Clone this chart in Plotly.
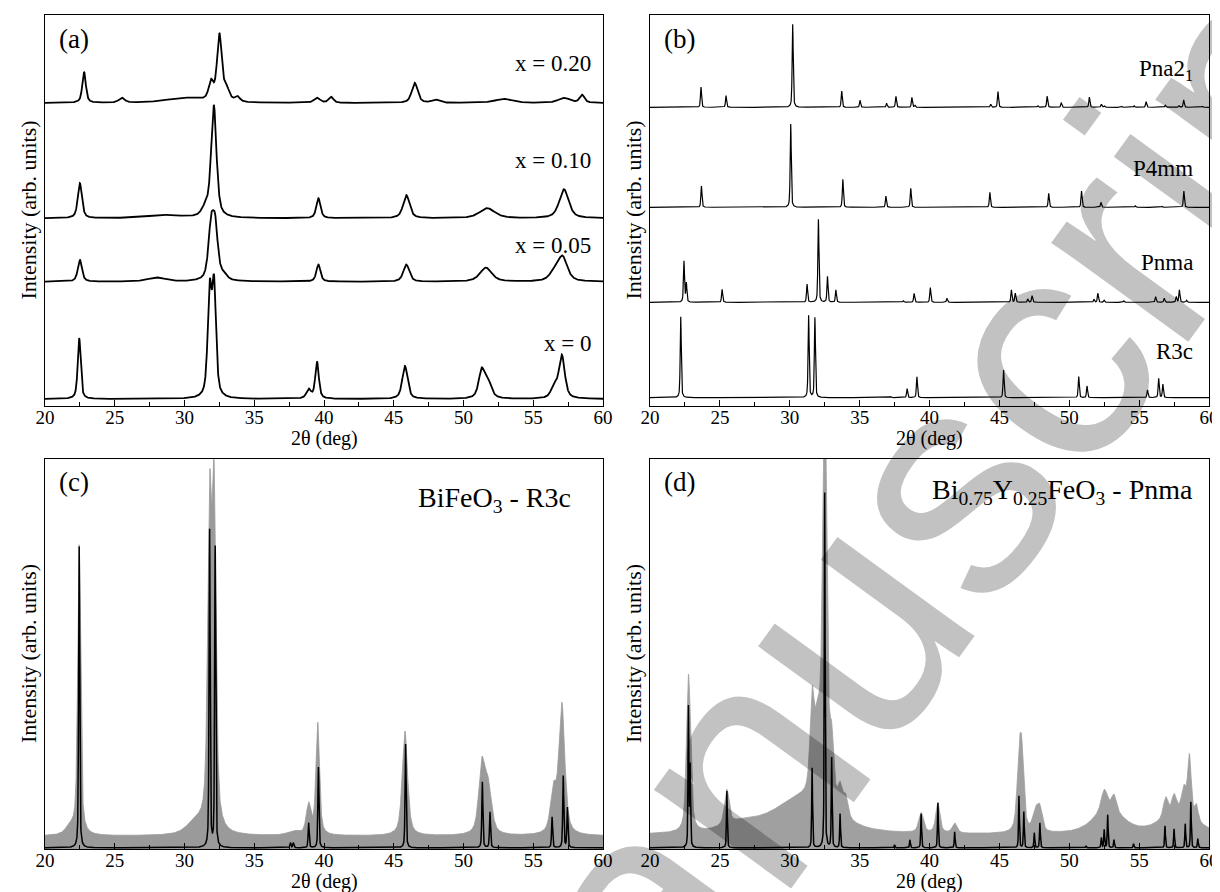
import numpy as np
import plotly.graph_objects as go
from plotly.subplots import make_subplots

# ---------------- data ----------------
tick_vals = [20, 25, 30, 35, 40, 45, 50, 55, 60]

# Panel (a): measured patterns, peak tables (2theta, height, fwhm) + baseline offset
a_labels = ["x = 0", "x = 0.05", "x = 0.10", "x = 0.20"]
a_base = [7.0, 124.3, 187.7, 303.0]
a_x0_pos = [22.45, 31.8, 32.12, 38.9, 39.5, 45.8, 51.3, 51.75, 56.5, 57.05]
a_x0_amp = [61, 103, 108, 9, 37, 33, 27, 16, 12, 43]
a_x0_fw = [0.25, 0.33, 0.33, 0.4, 0.3, 0.45, 0.5, 0.6, 0.5, 0.5]
a_x05_pos = [22.5, 28.0, 31.9, 32.2, 32.8, 39.6, 45.9, 51.6, 56.5, 57.1]
a_x05_amp = [22, 4, 50, 50, 5, 17, 17, 14, 8, 24]
a_x05_fw = [0.35, 1.5, 0.45, 0.45, 0.6, 0.35, 0.5, 1.0, 0.8, 0.8]
a_x10_pos = [22.5, 28.5, 31.5, 32.1, 39.6, 45.9, 51.7, 57.2]
a_x10_amp = [35, 3, 8, 112, 20, 23, 10, 29]
a_x10_fw = [0.35, 3.0, 0.6, 0.45, 0.35, 0.55, 1.3, 0.8]
a_x20_pos = [22.8, 25.5, 30.0, 31.9, 32.5, 33.0, 33.8, 39.5, 40.5, 46.5, 48.0, 52.9, 57.2, 58.5]
a_x20_amp = [31, 5, 5, 18, 66, 12, 5, 5, 6, 20, 3, 4, 5, 8]
a_x20_fw = [0.3, 0.5, 3.0, 0.4, 0.4, 0.5, 0.4, 0.5, 0.4, 0.5, 0.6, 1.5, 1.0, 0.4]

# Panel (b): simulated patterns
b_labels = ["R3c", "Pnma", "P4mm", "Pna2<sub>1</sub>"]
b_base = [8.3, 103.7, 198.7, 298.7]
b_r3c_pos = [22.2, 31.35, 31.8, 37.27, 38.4, 39.1, 45.3, 50.68, 51.27, 55.6, 56.4, 56.7]
b_r3c_amp = [81, 82, 80, 1, 9, 21, 27.7, 21, 11.7, 7.7, 19.3, 13.3]
b_pnma_pos = [22.43, 22.6, 25.16, 31.24, 32.05, 32.7, 33.3, 38.13, 38.9, 40.06, 41.25, 45.86,
              46.14, 47.03, 47.34, 51.77, 52.05, 52.5, 53.9, 56.18, 56.8, 57.66, 57.88, 58.4]
b_pnma_amp = [41, 19, 13, 18, 83, 25.7, 12.3, 1.5, 9, 14.7, 4, 12.3,
              9, 3.3, 6.7, 3, 9, 2, 1.5, 5.7, 4, 5.7, 12.3, 2]
b_p4mm_pos = [23.68, 30.07, 33.8, 36.88, 38.66, 44.32, 48.53, 50.88, 52.27, 54.73, 56.65, 58.2]
b_p4mm_amp = [21.3, 83.3, 28, 11.3, 19, 15, 14, 16.3, 5, 1.5, 1, 16.3]
b_pna_pos = [23.65, 25.44, 30.21, 33.72, 35.03, 36.93, 37.6, 38.74, 38.95, 44.38, 44.9, 47.75,
             48.42, 49.43, 51.44, 52.3, 52.5, 53.75, 54.64, 55.5, 56.88, 57.85, 58.19, 59.53]
b_pna_amp = [20.3, 11.7, 83, 16.3, 7, 4, 11, 10, 2, 3, 15.7, 1.5,
             11.3, 4.7, 10.3, 3, 1.5, 1, 1.5, 5.7, 2, 1.5, 7.3, 1]

# Panel (c): BiFeO3 measured (grey) and R3c calculated (black)
c_exp_base = 13.0
c_exp_pos = [21.8, 22.45, 30.8, 31.8, 32.12, 37.8, 38.9, 39.55, 45.8, 51.3, 51.75, 56.45, 57.05]
c_exp_amp = [8, 290, 12, 310, 325, 4, 30, 112, 105, 66, 48, 42, 130]
c_exp_fw = [0.8, 0.25, 1.5, 0.33, 0.33, 1.0, 0.4, 0.3, 0.45, 0.5, 0.6, 0.5, 0.5]
c_cal_pos = [22.45, 31.8, 32.2, 37.6, 37.8, 38.9, 39.6, 45.85, 51.35, 51.9, 56.35, 57.15, 57.45]
c_cal_amp = [302, 318, 301, 5, 5, 25, 81, 104, 66, 36, 31, 72, 40]

# Panel (d): Bi0.75Y0.25FeO3 measured (grey) and Pnma calculated (black)
d_exp_base = 14.0
d_exp_pos = [22.72, 22.85, 25.5, 26.5, 30.8, 31.6, 32.0, 32.5, 33.0, 33.6, 34.0, 39.4, 40.6, 41.8,
             46.4, 46.6, 47.6, 47.9, 52.5, 52.8, 53.2, 56.9, 57.5, 57.8, 58.2, 58.6, 59.1]
d_exp_amp = [120, 60, 35, 8, 35, 90, 70, 420, 60, 25, 20, 20, 30, 10,
             60, 70, 20, 20, 20, 25, 15, 20, 18, 20, 25, 60, 15]
d_exp_fw = [0.3, 0.3, 0.4, 3.0, 5.0, 0.35, 0.5, 0.35, 0.35, 0.4, 0.4, 0.4, 0.35, 0.4,
            0.35, 0.35, 0.5, 0.4, 0.5, 2.5, 0.4, 0.4, 0.4, 3.0, 0.4, 0.3, 0.3]
d_cal_pos = [22.75, 22.87, 25.5, 31.6, 32.5, 33.0, 33.6, 37.5, 38.6, 39.4, 40.6, 41.8, 46.4, 46.75,
             47.5, 47.9, 51.2, 52.3, 52.5, 52.75, 53.2, 54.6, 56.85, 57.5, 58.3, 58.7, 59.2]
d_cal_amp = [140, 80, 57, 80, 356, 90, 34, 3, 8, 34, 45, 16, 52, 36,
             15, 25, 2, 10, 18, 33, 8, 4, 22, 19, 24, 46, 9]

# ---------------- helpers ----------------
grid = np.linspace(20, 60, 4001)


def pattern(pos, amp, fw, base=0.0, eta=0.6):
    y = np.full_like(grid, base, dtype=float)
    for p, a, w in zip(pos, amp, fw):
        r = (grid - p) / w
        y += a * (eta / (1 + 4 * r ** 2) + (1 - eta) * np.exp(-4 * np.log(2) * r ** 2))
    return y


FONT = "Liberation Serif"

# pixel layout
W, H = 1220, 892
L, R, T, B = 37, 19, 7, 51
PW, PH = W - L - R, H - T - B
ax_px = {"a": (37, 595), "b": (642, 1201)}
ay_px = {"top": (7, 398), "bot": (451, 841)}

fig = make_subplots(rows=2, cols=2)
xd1 = [0, (ax_px["a"][1] - L) / PW]
xd2 = [(ax_px["b"][0] - L) / PW, 1]
yd1 = [(H - B - ay_px["top"][1]) / PH, 1]
yd2 = [0, (H - B - ay_px["bot"][0]) / PH]

# panel (a)
a_sets = [(a_x0_pos, a_x0_amp, a_x0_fw), (a_x05_pos, a_x05_amp, a_x05_fw),
          (a_x10_pos, a_x10_amp, a_x10_fw), (a_x20_pos, a_x20_amp, a_x20_fw)]
for (p, a, w), b in zip(a_sets, a_base):
    fig.add_trace(go.Scatter(x=grid, y=pattern(p, a, w, b), mode="lines",
                             line=dict(color="black", width=1.8), showlegend=False), row=1, col=1)

# panel (b)
b_sets = [(b_r3c_pos, b_r3c_amp), (b_pnma_pos, b_pnma_amp), (b_p4mm_pos, b_p4mm_amp), (b_pna_pos, b_pna_amp)]
for (p, a), b in zip(b_sets, b_base):
    fig.add_trace(go.Scatter(x=grid, y=pattern(p, a, [0.09] * len(p), b, 0.5), mode="lines",
                             line=dict(color="black", width=1.2), showlegend=False), row=1, col=2)

# panel (c)
fig.add_trace(go.Scatter(x=grid, y=pattern(c_exp_pos, c_exp_amp, c_exp_fw, c_exp_base), mode="lines",
                         fill="tozeroy", fillcolor="#9a9a9a", line=dict(color="#9a9a9a", width=0.8),
                         showlegend=False), row=2, col=1)
fig.add_trace(go.Scatter(x=grid, y=pattern(c_cal_pos, c_cal_amp, [0.09] * len(c_cal_pos), 1.2, 0.5),
                         mode="lines", line=dict(color="black", width=1.5), showlegend=False), row=2, col=1)

# panel (d)
fig.add_trace(go.Scatter(x=grid, y=pattern(d_exp_pos, d_exp_amp, d_exp_fw, d_exp_base), mode="lines",
                         fill="tozeroy", fillcolor="#a0a0a0", line=dict(color="#a0a0a0", width=0.8),
                         showlegend=False), row=2, col=2)
fig.add_trace(go.Scatter(x=grid, y=pattern(d_cal_pos, d_cal_amp, [0.07] * len(d_cal_pos), 1.2, 0.5),
                         mode="lines", line=dict(color="black", width=1.5), showlegend=False), row=2, col=2)

# axes
for r in (1, 2):
    for c in (1, 2):
        fig.update_xaxes(range=[20, 60], tickvals=tick_vals, ticks="inside", ticklen=6, tickwidth=1,
                         tickcolor="black", minor=dict(dtick=2.5, ticks="inside", ticklen=4, tickcolor="black"),
                         showline=True, mirror=True, linecolor="black", linewidth=1, showgrid=False,
                         zeroline=False, ticklabelstandoff=-6,
                         tickfont=dict(family=FONT, size=19, color="black"),
                         domain=xd1 if c == 1 else xd2, row=r, col=c)
        fig.update_yaxes(range=[0, 391], showticklabels=False, ticks="", showline=True, mirror=True,
                         linecolor="black", linewidth=1, showgrid=False, zeroline=False,
                         domain=yd1 if r == 1 else yd2, row=r, col=c)

ann = []
# axis titles
for xr, yr in (("x", "y"), ("x2", "y2"), ("x3", "y3"), ("x4", "y4")):
    ann.append(dict(text="2θ (deg)", xref=xr + " domain", yref=yr + " domain", x=0.5, y=0,
                    yshift=-19, xanchor="center", yanchor="top", showarrow=False,
                    font=dict(family=FONT, size=20, color="black")))
    ann.append(dict(text="Intensity (arb. units)", xref=xr + " domain", yref=yr + " domain", x=0, y=0.5,
                    xshift=-17, textangle=-90, xanchor="center", yanchor="middle", showarrow=False,
                    font=dict(family=FONT, size=22, color="black")))

# panel letters
for t, xr, yr, yy in (("(a)", "x", "y", 367), ("(b)", "x2", "y2", 367),
                      ("(c)", "x3", "y3", 368), ("(d)", "x4", "y4", 368)):
    ann.append(dict(text=t, xref=xr, yref=yr, x=20.85, y=yy, xanchor="left", yanchor="middle",
                    showarrow=False, font=dict(family=FONT, size=27, color="black")))

# series labels panel (a)
a_label_y = [62.7, 161, 246, 343]
for t, y in zip(a_labels, a_label_y):
    ann.append(dict(text=t, xref="x", yref="y", x=59.3, y=y, xanchor="right", yanchor="middle",
                    showarrow=False, font=dict(family=FONT, size=23, color="black")))
b_label_y = [55, 144, 238, 336]
for t, y in zip(b_labels, b_label_y):
    ann.append(dict(text=t, xref="x2", yref="y2", x=59.0, y=y, xanchor="right", yanchor="middle",
                    showarrow=False, font=dict(family=FONT, size=23, color="black")))

ann.append(dict(text="BiFeO<sub>3</sub> - R3c", xref="x3", yref="y3", x=46.6, y=350, xanchor="left",
                yanchor="middle", showarrow=False, font=dict(family=FONT, size=28, color="black")))
ann.append(dict(text="Bi<sub>0.75</sub>Y<sub>0.25</sub>FeO<sub>3</sub> - Pnma", xref="x4", yref="y4", x=40.0,
                y=358, xanchor="left", yanchor="middle", showarrow=False,
                font=dict(family=FONT, size=28, color="black")))

# watermark
wx, wy = 880, 560
ann.append(dict(text="Manuscript", xref="paper", yref="paper", x=(wx - L) / PW, y=(H - B - wy) / PH,
                xanchor="center", yanchor="middle", textangle=-54, showarrow=False,
                font=dict(family="Liberation Sans", size=320, color="rgba(0,0,0,0.24)")))

fig.update_layout(width=W, height=H, margin=dict(l=L, r=R, t=T, b=B),
                  paper_bgcolor="white", plot_bgcolor="white", annotations=ann, showlegend=False,
                  font=dict(family=FONT))

fig.write_html("out.html")
